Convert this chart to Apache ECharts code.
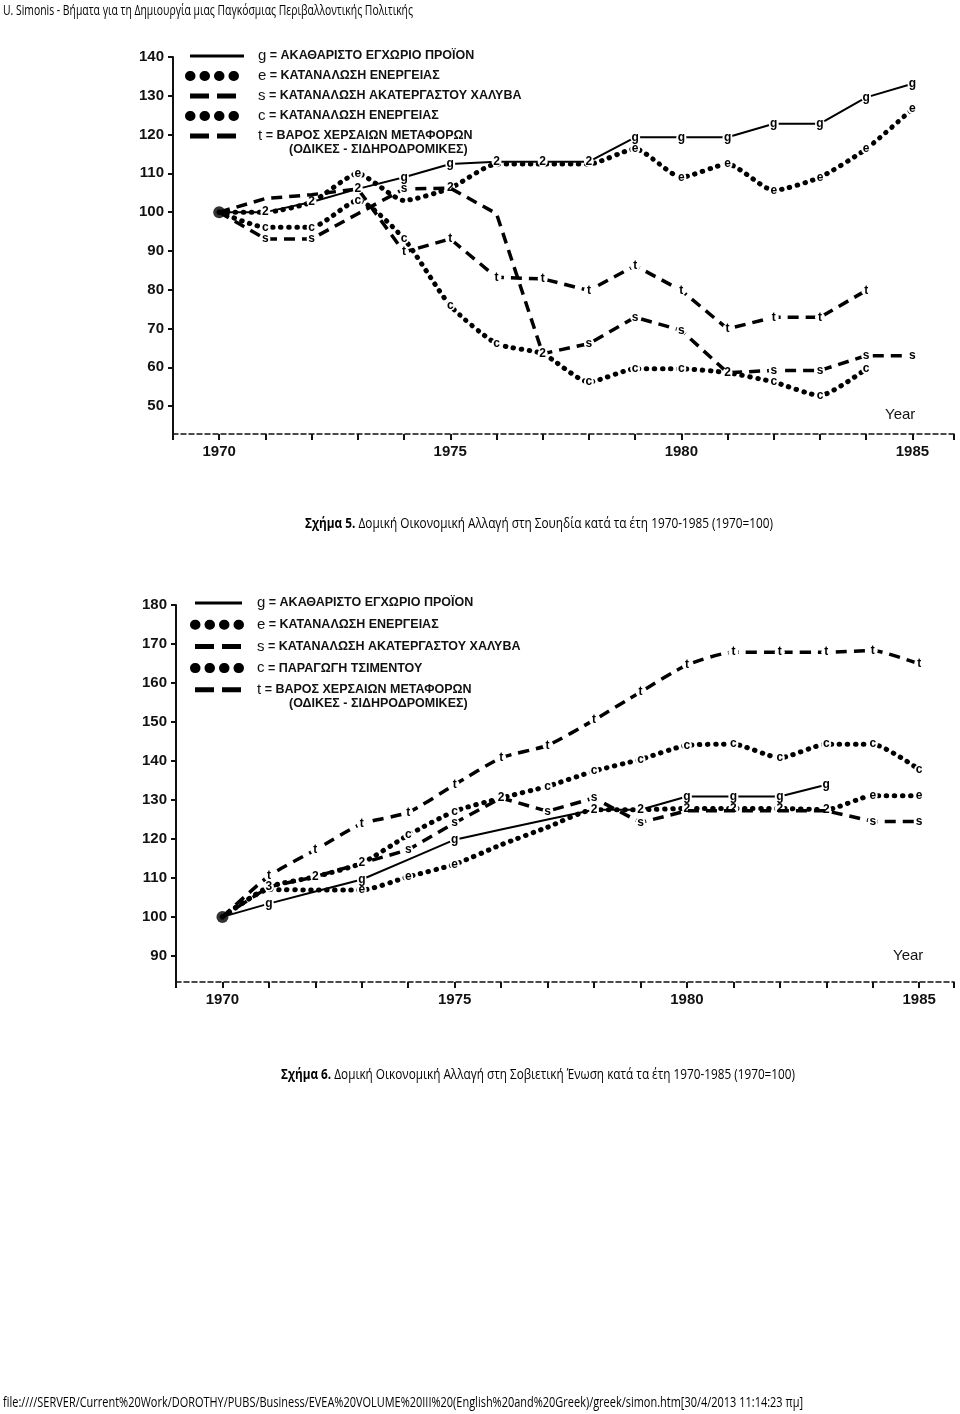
<!DOCTYPE html>
<html><head><meta charset="utf-8">
<script src="https://cdn.jsdelivr.net/npm/echarts@6/dist/echarts.min.js"></script>
<style>html,body{margin:0;padding:0;background:#fff}#c{width:960px;height:1414px}</style>
</head><body><div id="c"></div>
<script>
// ---------- data ----------
const years = [1970,1971,1972,1973,1974,1975,1976,1977,1978,1979,1980,1981,1982,1983,1984,1985];
const xLabelYears = [1970,1975,1980,1985];
const sweTicks = [50,60,70,80,90,100,110,120,130,140];
const ussrTicks = [90,100,110,120,130,140,150,160,170,180];

// Figure 5 - Sweden
const sweG = [100,100,102.6,106,109,112.4,113,113,113,119.3,119.3,119.3,122.8,122.8,129.6,133.1];
const sweE = [100,100,102.6,109.9,103,106.2,112.4,112.4,112.4,116.3,109,112.4,105.6,109,116.3,126.6];
const sweS = [100,93.1,93.1,99.6,106,106.2,99.6,63.5,66.1,72.9,69.5,58.6,59.2,59.2,63,63];
const sweC = [100,96.1,96.1,103,93.1,75.9,66.1,63.5,56.2,59.6,59.6,58.6,56.2,52.7,59.6,null];
const sweT = [100,103.5,104.5,106,89.7,93.1,83.2,82.8,79.8,86.2,79.8,69.9,72.9,72.9,79.8,null];
const sweGMarks = ['','2','2','2','g','g','2','2','2','g','g','g','g','g','g','g'];
const sweEMarks = ['','','','e','','2','','','','e','e','e','e','e','e','e'];
const sweSMarks = ['','s','s','','s','','','2','s','s','s','2','s','s','s','s'];
const sweCMarks = ['','c','c','c','c','c','c','','c','c','c','','c','c','c',''];
const sweTMarks = ['','','','','t','t','t','t','t','t','t','t','t','t','t',''];

// Figure 6 - Soviet Union
const ussrG = [100,103.4,106.5,109.6,114.7,119.8,122.4,125,127.5,127.5,130.9,130.9,130.9,133.9,null,null];
const ussrE = [100,107,106.9,106.9,110.3,113.5,118.5,123,127.5,127.5,127.8,127.8,127.8,127.5,131.1,131.1];
const ussrS = [100,107.7,110.3,113.8,117.2,124.1,130.5,127.1,130.5,124.2,127.2,127.2,127.2,127.2,124.5,124.5];
const ussrC = [100,107.7,110.3,113.8,121,127.1,130.5,133.5,137.4,140.4,144,144.3,140.8,144.3,144.3,137.8];
const ussrT = [100,110.5,117.2,123.9,126.8,133.9,140.8,144,150.5,157.7,164.6,167.9,167.9,167.9,168.3,164.9];
const ussrGMarks = ['','g','','g','','g','','','2','2','g','g','g','g','',''];
const ussrEMarks = ['','','','e','e','e','','','','','2','2','2','2','e','e'];
const ussrSMarks = ['','3','2','2','s','s','2','s','s','s','','','','','s','s'];
const ussrCMarks = ['','','','','c','c','','c','c','c','c','c','c','c','c','c'];
const ussrTMarks = ['','t','t','t','t','t','t','t','t','t','t','t','t','t','t','t'];

// names / texts
const nG = 'g = ΑΚΑΘΑΡΙΣΤΟ ΕΓΧΩΡΙΟ ΠΡΟΪΟΝ';
const nE = 'e = ΚΑΤΑΝΑΛΩΣΗ ΕΝΕΡΓΕΙΑΣ';
const nS = 's = ΚΑΤΑΝΑΛΩΣΗ ΑΚΑΤΕΡΓΑΣΤΟΥ ΧΑΛΥΒΑ';
const nC1 = 'c = ΚΑΤΑΝΑΛΩΣΗ ΕΝΕΡΓΕΙΑΣ';
const nC2 = 'c = ΠΑΡΑΓΩΓΗ ΤΣΙΜΕΝΤΟΥ';
const nT = 't = ΒΑΡΟΣ ΧΕΡΣΑΙΩΝ ΜΕΤΑΦΟΡΩΝ';
const nT2 = '(ΟΔΙΚΕΣ - ΣΙΔΗΡΟΔΡΟΜΙΚΕΣ)';
const headerText = 'U. Simonis - Βήματα για τη Δημιουργία μιας Παγκόσμιας Περιβαλλοντικής Πολιτικής';
const cap1Bold = 'Σχήμα 5.';
const cap1Text = ' Δομική Οικονομική Αλλαγή στη Σουηδία κατά τα έτη 1970-1985 (1970=100)';
const cap2Bold = 'Σχήμα 6.';
const cap2Text = ' Δομική Οικονομική Αλλαγή στη Σοβιετική Ένωση κατά τα έτη 1970-1985 (1970=100)';
const footerText = 'file:////SERVER/Current%20Work/DOROTHY/PUBS/Business/EVEA%20VOLUME%20III%20(English%20and%20Greek)/greek/simon.htm[30/4/2013 11:14:23 πμ]';

// ---------- helpers ----------
const mctx = document.createElement('canvas').getContext('2d');
function tw(t, font){ mctx.font = font; return mctx.measureText(t).width; }
const FF = '"Open Sans"';
function fitText(x, y, boldPart, normalPart, targetW, size){
  const wb = boldPart ? tw(boldPart, 'bold ' + size + 'px ' + FF) : 0;
  const wn = tw(normalPart, size + 'px ' + FF);
  const sx = targetW / (wb + wn);
  const txt = (boldPart ? '{b|' + boldPart + '}' : '') + '{n|' + normalPart + '}';
  return {
    type:'text', x:x, y:y, scaleX:sx, scaleY:1, silent:true,
    style:{ text:txt, x:0, y:0, verticalAlign:'middle', align:'left', fill:'#000',
      rich:{ b:{fontWeight:'bold', fontSize:size, fontFamily:'Open Sans', fill:'#000'},
             n:{fontWeight:'normal', fontSize:size, fontFamily:'Open Sans', fill:'#000'} } }
  };
}

const solid = {color:'#000', width:2, type:'solid'};
const dotted = {color:'#000', width:5, type:[0.5, 7.5], cap:'round'};
const dashed = {color:'#000', width:3.5, type:[11, 7], cap:'butt'};
const legSolid = {color:'#000', width:3, type:'solid'};
const legDotted = {color:'#000', width:10, type:[0.5, 14], cap:'round'};
const legDashed = {color:'#000', width:5, type:[19, 8], cap:'butt'};

function mk(name, vals, marks, style, gi, smooth, z){
  return {
    type:'line', name:name, xAxisIndex:gi, yAxisIndex:gi,
    data: years.map((y,i) => [y, vals[i]]),
    smooth: smooth, symbol:'circle', showAllSymbol:true,
    symbolSize: (v, p) => marks[p.dataIndex] ? 10 : 0,
    itemStyle:{color:'#fff', borderWidth:0},
    lineStyle: style,
    label:{show:true, position:'inside', formatter: p => marks[p.dataIndex] || '',
      color:'#000', fontSize:12, fontWeight:'bold', fontFamily:'Liberation Sans'},
    emphasis:{disabled:true}, z:z, animation:false
  };
}
function startDot(gi, v){
  return {type:'scatter', xAxisIndex:gi, yAxisIndex:gi, data:[[years[0], v]], symbolSize:12,
    itemStyle:{color:'#000'}, z:10, silent:true};
}

function legendFmt(name){
  return '{sp|}{k|' + name.charAt(0) + '}{t|' + name.slice(1) + '}';
}
function mkLegend(left, top, itemW, gap, items, sp){
  return {
    orient:'vertical', left:left, top:top, itemWidth:itemW, itemHeight:12, itemGap:gap,
    data: items.map(it => ({name: it[0], lineStyle: it[1], itemStyle:{opacity:0}})),
    selectedMode:false, formatter:legendFmt,
    itemStyle:{opacity:0},
    textStyle:{color:'#111', rich:{
      sp:{width:sp, height:12},
      k:{fontSize:15, fontFamily:'Liberation Sans', color:'#111', lineHeight:12},
      t:{fontSize:12.5, fontWeight:'bold', fontFamily:'Liberation Sans', color:'#111', lineHeight:12}
    }}
  };
}

function xAx(gi, max){
  return {
    type:'value', gridIndex:gi, min:1969, max:max, interval:1,
    splitLine:{show:false},
    axisLine:{show:true, onZero:false, lineStyle:{color:'#111', width:1.5, type:[5,3]}},
    axisTick:{show:true, length:6, lineStyle:{color:'#111', width:2}},
    axisLabel:{customValues:xLabelYears,
      formatter: v => xLabelYears.includes(v) ? String(v) : '',
      fontSize:15, fontWeight:'bold', color:'#111', margin:10, fontFamily:'Liberation Sans'}
  };
}
function yAx(gi, min, max, ticks){
  return {
    type:'value', gridIndex:gi, min:min, max:max,
    splitLine:{show:false},
    axisLine:{show:true, onZero:false, lineStyle:{color:'#111', width:2}},
    axisTick:{show:true, customValues:ticks, length:5, lineStyle:{color:'#111', width:2}},
    axisLabel:{customValues:ticks, fontSize:15, fontWeight:'bold',
      color:'#111', margin:9, fontFamily:'Liberation Sans'}
  };
}

const option = {
  animation:false,
  backgroundColor:'#fff',
  grid:[
    {left:173, top:57, right:6, bottom:980, containLabel:false},
    {left:176, top:605, right:6, bottom:432, containLabel:false}
  ],
  xAxis:[ xAx(0, 1985.9), xAx(1, 1985.75) ],
  yAxis:[ yAx(0, 42.8, 140, sweTicks), yAx(1, 83.3, 180, ussrTicks) ],
  legend:[
    mkLegend(180, 43.5, 54, 5, [[nG, legSolid], [nE, legDotted], [nS, legDashed], [nC1, legDotted], [nT, legDashed]], 9),
    mkLegend(185, 590.5, 47, 6.7, [[nG, legSolid], [nE, legDotted], [nS, legDashed], [nC2, legDotted], [nT, legDashed]], 10)
  ],
  title:[
    {text:'Year', left:880, top:402, textStyle:{fontSize:15, fontWeight:'normal', fontFamily:'Liberation Sans', color:'#111'}},
    {text:'Year', left:888, top:943, textStyle:{fontSize:15, fontWeight:'normal', fontFamily:'Liberation Sans', color:'#111'}},
    {text:nT2, left:284, top:138, textStyle:{fontSize:12.5, fontWeight:'bold', fontFamily:'Liberation Sans', color:'#111'}},
    {text:nT2, left:284, top:692, textStyle:{fontSize:12.5, fontWeight:'bold', fontFamily:'Liberation Sans', color:'#111'}}
  ],
  graphic:[
    fitText(3, 11, '', headerText, 410, 14),
    fitText(305, 524, cap1Bold, cap1Text, 468, 15),
    fitText(281, 1075, cap2Bold, cap2Text, 514, 15),
    fitText(3, 1403, '', footerText, 800, 14)
  ],
  series:[
    mk(nE, sweE, sweEMarks, dotted, 0, 0.2, 3),
    mk(nC1, sweC, sweCMarks, dotted, 0, 0.2, 3),
    mk(nS, sweS, sweSMarks, dashed, 0, 0, 4),
    mk(nT, sweT, sweTMarks, dashed, 0, 0, 4),
    mk(nG, sweG, sweGMarks, solid, 0, 0, 5),
    startDot(0, sweG[0]),
    mk(nE, ussrE, ussrEMarks, dotted, 1, 0.2, 3),
    mk(nC2, ussrC, ussrCMarks, dotted, 1, 0.2, 3),
    mk(nS, ussrS, ussrSMarks, dashed, 1, 0, 4),
    mk(nT, ussrT, ussrTMarks, dashed, 1, 0.2, 4),
    mk(nG, ussrG, ussrGMarks, solid, 1, 0, 5),
    startDot(1, ussrG[0])
  ]
};
const chart = echarts.init(document.getElementById('c'), null, {renderer:'canvas', width:960, height:1414});
chart.setOption(option);
</script>
</body></html>
